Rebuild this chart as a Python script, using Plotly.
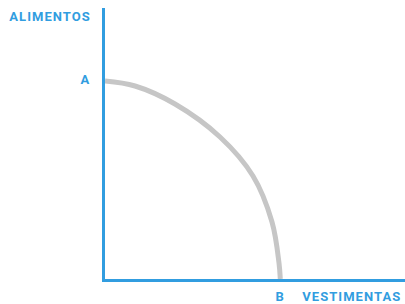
import plotly.graph_objects as go

# Production possibility frontier
vestimentas = [0, 30, 70, 115, 148, 167, 174, 175.3]
alimentos = [198, 193, 175, 142, 103, 57, 16, 0]

BLUE = "#319de0"
GRAY = "#c6c6c6"
FONT = dict(family="Roboto", size=13, color=BLUE, weight="bold")

fig = go.Figure()
fig.add_trace(go.Scatter(
    x=vestimentas, y=alimentos, mode="lines",
    line=dict(color=GRAY, width=5, shape="spline", smoothing=1.0),
    hoverinfo="skip", cliponaxis=False,
))

annotations = [
    dict(text="ALIMENTOS", x=-0.058, y=0.970, xanchor="right", yanchor="middle"),
    dict(text="A", x=-0.045, y=0.738, xanchor="right", yanchor="middle"),
    dict(text="B", x=0.583, y=-0.063, xanchor="center", yanchor="middle"),
    dict(text="VESTIMENTAS", x=0.973, y=-0.063, xanchor="right", yanchor="middle"),
]
for a in annotations:
    fig.add_annotation(xref="paper", yref="paper", showarrow=False, font=FONT, **a)

fig.update_layout(
    width=405, height=304,
    margin=dict(l=105, r=0, t=8, b=25),
    paper_bgcolor="white", plot_bgcolor="white",
    showlegend=False,
    xaxis=dict(range=[0, 300], showgrid=False, zeroline=False, showticklabels=False,
               showline=True, linecolor=BLUE, linewidth=3, fixedrange=True),
    yaxis=dict(range=[0, 271], showgrid=False, zeroline=False, showticklabels=False,
               showline=True, linecolor=BLUE, linewidth=3, fixedrange=True),
)

post = """
document.body.style.margin='0';
function spaceText(){
  document.querySelectorAll('.annotation-text').forEach(function(e){
    e.style.letterSpacing='1.05px';
  });
}
spaceText();
setTimeout(spaceText, 0);
var gd=document.getElementById('{plot_id}');
if (gd && gd.on) { gd.on('plotly_afterplot', spaceText); }
"""
fig.write_html("out.html", post_script=post, config={"displayModeBar": False})
